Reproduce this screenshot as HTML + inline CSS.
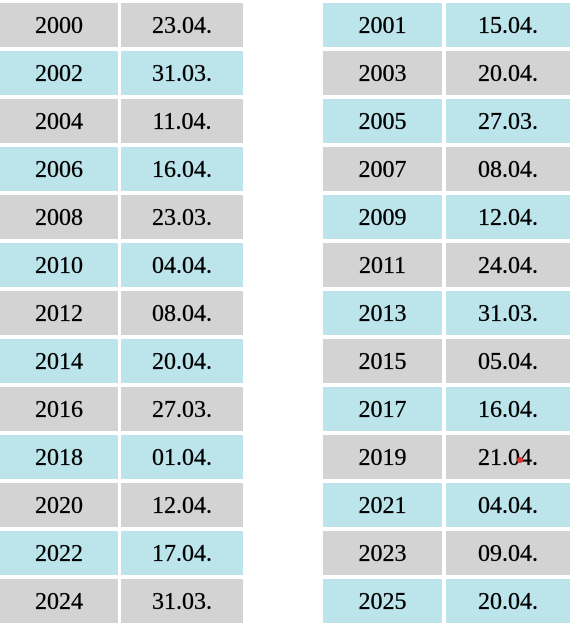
<!DOCTYPE html>
<html><head><meta charset="utf-8"><style>
html,body{margin:0;padding:0;background:#fff;width:571px;height:627px;overflow:hidden;position:relative}
.c{position:absolute;height:44px;line-height:46px;text-align:center;font-family:"Liberation Serif",serif;font-size:24px;color:#000;-webkit-text-stroke:0.3px #000}
.g{background:#d3d3d3}.b{background:#bce5eb}
</style></head><body>
<div id="root"></div>
<div style="position:absolute;left:517px;top:457px;width:6px;height:6px;border-radius:50%;background:#e53030;z-index:2"></div>
<script>
const years=[2000,2001,2002,2003,2004,2005,2006,2007,2008,2009,2010,2011,2012,2013,2014,2015,2016,2017,2018,2019,2020,2021,2022,2023,2024,2025];
const dates=["23.04.","15.04.","31.03.","20.04.","11.04.","27.03.","16.04.","08.04.","23.03.","12.04.","04.04.","24.04.","08.04.","31.03.","20.04.","05.04.","27.03.","16.04.","01.04.","21.04.","12.04.","04.04.","17.04.","09.04.","31.03.","20.04."];
const root=document.getElementById('root');
years.forEach((y,i)=>{
  const side=i%2, row=Math.floor(i/2);
  const top=3+row*48;
  const cls=((row+side)%2===0)?'g':'b';
  const x1=side?323:0, w1=side?119:118, x2=side?446:121, w2=side?124:122;
  const a=document.createElement('div');
  a.className='c '+cls;a.style.left=x1+'px';a.style.top=top+'px';a.style.width=w1+'px';a.textContent=y;
  
  
  root.appendChild(a);
  const b=document.createElement('div');
  b.className='c '+cls;b.style.left=x2+'px';b.style.top=top+'px';b.style.width=w2+'px';b.textContent=dates[i];
  
  
  root.appendChild(b);
});
</script>
</body></html>
